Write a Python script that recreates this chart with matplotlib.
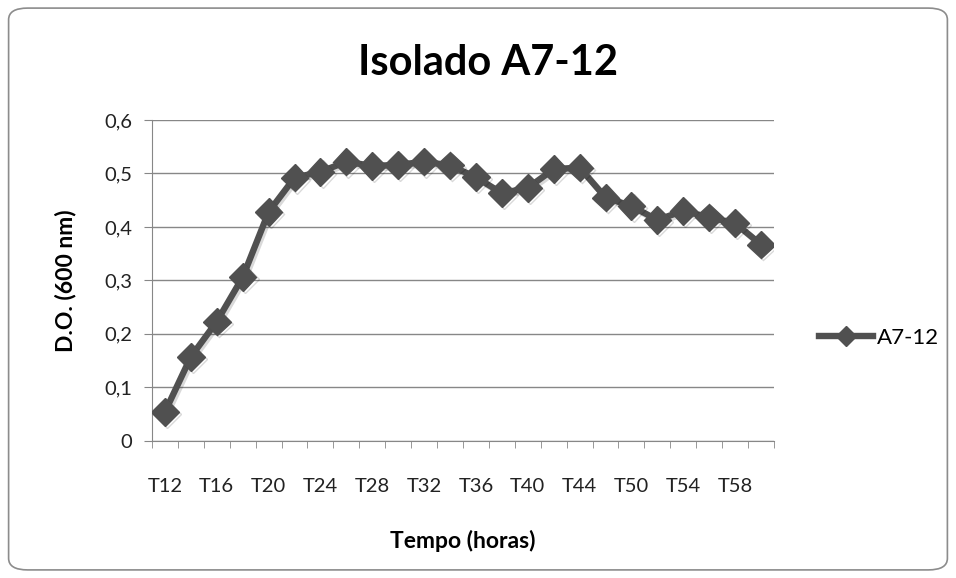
import matplotlib.pyplot as plt
import matplotlib.patheffects as pe
from matplotlib.lines import Line2D
from matplotlib.patches import FancyBboxPatch
from matplotlib.ticker import FuncFormatter

plt.rcParams['font.family'] = ['Lato', 'DejaVu Sans']

categories = ["T12", "T14", "T16", "T18", "T20", "T22", "T24", "T26", "T28", "T30",
              "T32", "T34", "T36", "T38", "T40", "T42", "T44", "T48", "T50", "T52",
              "T54", "T56", "T58", "T60"]
values = [0.054, 0.157, 0.223, 0.306, 0.428, 0.492, 0.503, 0.522, 0.514, 0.516,
          0.522, 0.515, 0.493, 0.463, 0.473, 0.508, 0.511, 0.455, 0.439, 0.413,
          0.430, 0.418, 0.407, 0.367]
series_name = "A7-12"
col = "#505050"

fig = plt.figure(figsize=(9.56, 5.78), dpi=100)
fig.patches.append(FancyBboxPatch((0.009, 0.014), 0.982, 0.972,
                                  boxstyle="round,pad=0,rounding_size=0.02",
                                  transform=fig.transFigure, facecolor="white",
                                  edgecolor="#8c8c8c", linewidth=1.2, zorder=-1))

ax = fig.add_axes([0.159, 0.2375, 0.6506, 0.5549])
ax.set_facecolor("none")
x = list(range(len(values)))
line, = ax.plot(x, values, color=col, linewidth=4.6, marker="D",
                markersize=14, markeredgecolor=col, zorder=3)
line.set_path_effects([pe.SimpleLineShadow(offset=(1.5, -1.5), alpha=0.15, shadow_color="black"),
                       pe.Normal()])

ax.set_xlim(-0.5, len(values) - 0.5)
ax.set_ylim(0, 0.6)
ax.set_yticks([0, 0.1, 0.2, 0.3, 0.4, 0.5, 0.6])
ax.yaxis.set_major_formatter(FuncFormatter(lambda v, p: "0" if v == 0 else f"{v:.1f}".replace(".", ",")))
ax.grid(axis="y", color="#878787", linewidth=1)
ax.set_axisbelow(True)

ax.set_xticks(x[::2])
ax.set_xticklabels(categories[::2])
ax.set_xticks([i - 0.5 for i in range(len(values) + 1)], minor=True)
ax.tick_params(axis="x", which="major", length=0, pad=27, labelsize=14.5, colors="#222222")
ax.tick_params(axis="x", which="minor", length=5, color="#878787")
ax.tick_params(axis="y", length=6, color="#878787", labelsize=14.5, pad=8, labelcolor="#222222")

for s in ["top", "right"]:
    ax.spines[s].set_visible(False)
for s in ["left", "bottom"]:
    ax.spines[s].set_color("#878787")

ax.set_xlabel("Tempo (horas)", fontsize=16.5, fontweight="bold", labelpad=25)
ax.set_ylabel("D.O. (600 nm)", fontsize=16.5, fontweight="bold", labelpad=20)
fig.text(0.51, 0.891, "Isolado A7-12", fontsize=30, fontweight="bold", ha="center", va="center")

handle = Line2D([], [], color=col, linewidth=4.6, marker="D", markersize=10, markeredgecolor=col)
fig.legend(handles=[handle], labels=[series_name], loc="center left", bbox_to_anchor=(0.836, 0.415),
           frameon=False, fontsize=16, handlelength=2.4, handletextpad=0.2)

fig.savefig("out.png", dpi=100)
